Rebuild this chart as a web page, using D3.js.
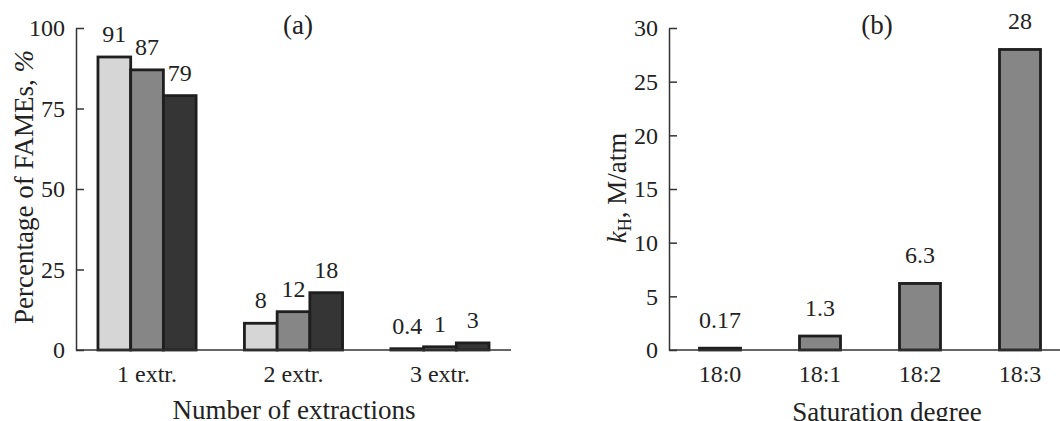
<!DOCTYPE html>
<html>
<head>
<meta charset="utf-8">
<script src="https://cdn.jsdelivr.net/npm/d3@7"></script>
<style>
  body { margin: 0; background: #fff; }
  svg text { font-family: "Liberation Serif", "Times New Roman", serif; fill: #222; }
</style>
</head>
<body>
<svg width="1060" height="421"></svg>
<script>
// panel (a)
var extractions = ["1 extr.", "2 extr.", "3 extr."];
var series = ["s1", "s2", "s3"];
var famesValues = [
    [91, 87, 79],
    [8.3, 11.9, 17.8],
    [0.4, 1, 2.2]
];
var famesLabels = [
    ["91", "87", "79"],
    ["8", "12", "18"],
    ["0.4", "1", "3"]
];
var famesTicks = [0, 25, 50, 75, 100];

// panel (b)
var saturation = ["18:0", "18:1", "18:2", "18:3"];
var khValues = [0.17, 1.3, 6.2, 28];
var khLabels = ["0.17", "1.3", "6.3", "28"];
var khTicks = [0, 5, 10, 15, 20, 25, 30];

var svg = d3.select("svg");
var fills = ["#d6d6d6", "#868686", "#353535"];
var plotTop = 28, plotBottom = 350;

function yAxis(g, y, ticks) {
    g.call(d3.axisLeft(y).tickValues(ticks).tickSizeInner(-8).tickSizeOuter(0).tickPadding(11));
    g.select(".domain").attr("stroke", "#333").attr("stroke-width", 1.5);
    g.selectAll(".tick line").attr("stroke", "#333").attr("stroke-width", 1.5);
    g.selectAll(".tick text").style("font-size", "24px").attr("font-family", null).attr("fill", "#222");
}

// ---------- panel (a)
var xa = d3.scaleBand().domain(extractions).range([76, 511])
    .paddingInner(0.33).paddingOuter(0.15);
var xs = d3.scaleBand().domain(series).range([0, xa.bandwidth()]);
var ya = d3.scaleLinear().domain([0, 100]).range([plotBottom, plotTop]);

var ga = svg.append("g");

var groups = ga.selectAll("g.grp")
    .data(extractions)
    .enter().append("g")
    .attr("class", "grp")
    .attr("transform", function (d) { return "translate(" + xa(d) + ",0)"; });

groups.selectAll("rect")
    .data(function (d, i) {
        return series.map(function (s, j) { return { s: s, j: j, v: famesValues[i][j] }; });
    })
    .enter().append("rect")
    .attr("x", function (d) { return xs(d.s); })
    .attr("y", function (d) { return ya(d.v); })
    .attr("width", xs.bandwidth())
    .attr("height", function (d) { return ya(0) - ya(d.v); })
    .attr("fill", function (d) { return fills[d.j]; })
    .attr("stroke", "#1e1e1e")
    .attr("stroke-width", 2.8);

groups.selectAll("text.val")
    .data(function (d, i) {
        return series.map(function (s, j) { return { s: s, v: famesValues[i][j], t: famesLabels[i][j] }; });
    })
    .enter().append("text")
    .attr("class", "val")
    .attr("x", function (d) { return xs(d.s) + xs.bandwidth() / 2; })
    .attr("y", function (d) { return ya(d.v) - 15; })
    .attr("text-anchor", "middle")
    .style("font-size", "24px")
    .text(function (d) { return d.t; });

// x axis (a)
ga.append("line")
    .attr("x1", 76).attr("x2", 511)
    .attr("y1", ya(0)).attr("y2", ya(0))
    .attr("stroke", "#333").attr("stroke-width", 1.5);

ga.selectAll("text.xl")
    .data(extractions)
    .enter().append("text")
    .attr("class", "xl")
    .attr("x", function (d) { return xa(d) + xa.bandwidth() / 2; })
    .attr("y", 382)
    .attr("text-anchor", "middle")
    .style("font-size", "24px")
    .text(function (d) { return d; });

ga.append("g").attr("transform", "translate(76,0)").call(yAxis, ya, famesTicks);

ga.append("text")
    .attr("x", 294).attr("y", 419)
    .attr("text-anchor", "middle")
    .style("font-size", "27px")
    .text("Number of extractions");

var ta = ga.append("text")
    .attr("transform", "translate(33,187) rotate(-90)")
    .attr("text-anchor", "middle")
    .style("font-size", "27px");
ta.append("tspan").text("Percentage of FAMEs, ");
ta.append("tspan").style("font-style", "italic").text("%");

ga.append("text")
    .attr("x", 298).attr("y", 34)
    .attr("text-anchor", "middle")
    .style("font-size", "27px")
    .text("(a)");

// ---------- panel (b)
var xb = d3.scaleBand().domain(saturation).range([670, 1070])
    .paddingInner(0.59).paddingOuter(0.295);
var yb = d3.scaleLinear().domain([0, 30]).range([plotBottom, plotTop]);

var gb = svg.append("g");

gb.selectAll("rect")
    .data(saturation)
    .enter().append("rect")
    .attr("x", function (d) { return xb(d); })
    .attr("y", function (d, i) { return yb(khValues[i]); })
    .attr("width", xb.bandwidth())
    .attr("height", function (d, i) { return yb(0) - yb(khValues[i]); })
    .attr("fill", "#868686")
    .attr("stroke", "#1e1e1e")
    .attr("stroke-width", 2.8);

gb.selectAll("text.val")
    .data(saturation)
    .enter().append("text")
    .attr("class", "val")
    .attr("x", function (d) { return xb(d) + xb.bandwidth() / 2; })
    .attr("y", function (d, i) { return yb(khValues[i]) - 20; })
    .attr("text-anchor", "middle")
    .style("font-size", "24px")
    .text(function (d, i) { return khLabels[i]; });

gb.append("line")
    .attr("x1", 669).attr("x2", 1060)
    .attr("y1", yb(0)).attr("y2", yb(0))
    .attr("stroke", "#333").attr("stroke-width", 1.5);

gb.selectAll("text.xl")
    .data(saturation)
    .enter().append("text")
    .attr("class", "xl")
    .attr("x", function (d) { return xb(d) + xb.bandwidth() / 2; })
    .attr("y", 382)
    .attr("text-anchor", "middle")
    .style("font-size", "24px")
    .text(function (d) { return d; });

gb.append("g").attr("transform", "translate(669,0)").call(yAxis, yb, khTicks);

gb.append("text")
    .attr("x", 887).attr("y", 421)
    .attr("text-anchor", "middle")
    .style("font-size", "27px")
    .text("Saturation degree");

var tb = gb.append("text")
    .attr("transform", "translate(626,188) rotate(-90)")
    .attr("text-anchor", "middle")
    .style("font-size", "27px");
tb.append("tspan").style("font-style", "italic").text("k");
tb.append("tspan").style("font-size", "18px").attr("dy", 5).text("H");
tb.append("tspan").attr("dy", -5).text(", M/atm");

gb.append("text")
    .attr("x", 877).attr("y", 34)
    .attr("text-anchor", "middle")
    .style("font-size", "27px")
    .text("(b)");
</script>
</body>
</html>
